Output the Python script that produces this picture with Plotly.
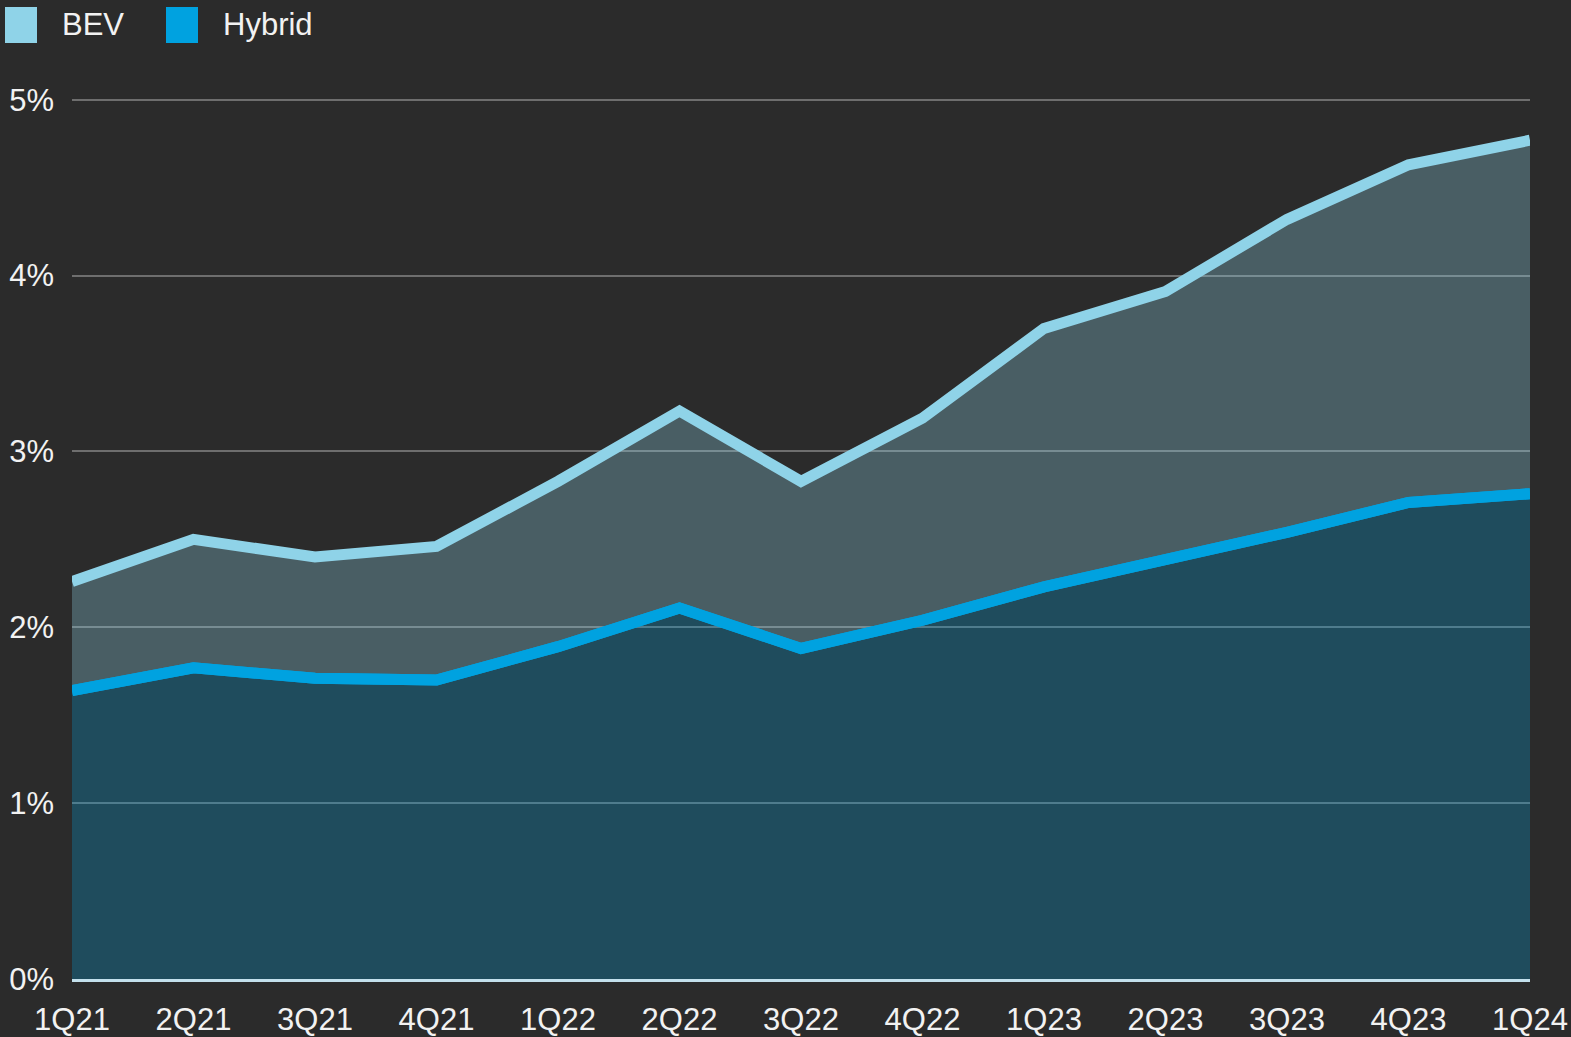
import plotly.graph_objects as go

# Quarterly share of new-vehicle sales (%)
quarters = ["1Q21", "2Q21", "3Q21", "4Q21", "1Q22", "2Q22", "3Q22",
            "4Q22", "1Q23", "2Q23", "3Q23", "4Q23", "1Q24"]
bev_share = [2.26, 2.50, 2.40, 2.46, 2.83, 3.23, 2.83, 3.19, 3.70, 3.91, 4.32, 4.63, 4.77]
hybrid_share = [1.64, 1.77, 1.71, 1.70, 1.89, 2.11, 1.88, 2.04, 2.23, 2.38, 2.54, 2.71, 2.76]
y_ticks = [0, 1, 2, 3, 4, 5]
y_tick_text = ["0%", "1%", "2%", "3%", "4%", "5%"]

BG = "#2b2b2b"
BEV_COLOR = "#8fd3e8"
HYBRID_COLOR = "#00a2e0"
TEXT_COLOR = "#f2f2f2"
FONT = "Liberation Sans, Arial, sans-serif"
FONT_SIZE = 31

W, H = 1571, 1037
M_L, M_R, M_T, M_B = 72, 41, 91, 58

fig = go.Figure()

# Hybrid area down to zero
fig.add_trace(go.Scatter(
    x=quarters, y=hybrid_share, mode="lines", name="Hybrid",
    line=dict(color=HYBRID_COLOR, width=11),
    fill="tozeroy", fillcolor="rgba(0,162,224,0.28)",
    showlegend=False, hoverinfo="skip",
))
# BEV area between the two lines
fig.add_trace(go.Scatter(
    x=quarters, y=bev_share, mode="lines", name="BEV",
    line=dict(color=BEV_COLOR, width=11),
    fill="tonexty", fillcolor="rgba(143,211,232,0.30)",
    showlegend=False, hoverinfo="skip",
))
# Redraw the hybrid line on top of the BEV fill
fig.add_trace(go.Scatter(
    x=quarters, y=hybrid_share, mode="lines",
    line=dict(color=HYBRID_COLOR, width=11),
    showlegend=False, hoverinfo="skip",
))

# Custom legend: coloured squares with labels above the plot
pw = W - M_L - M_R
ph = H - M_T - M_B


def px_to_paper_x(px):
    return (px - M_L) / pw


def px_to_paper_y(py):
    return (H - M_B - py) / ph


legend_items = [("BEV", BEV_COLOR, 5, 60), ("Hybrid", HYBRID_COLOR, 166, 221)]
shapes = []
annotations = []
for label, color, sq_left, text_left in legend_items:
    shapes.append(dict(
        type="rect", xref="paper", yref="paper",
        x0=px_to_paper_x(sq_left), x1=px_to_paper_x(sq_left + 32),
        y0=px_to_paper_y(43), y1=px_to_paper_y(7),
        fillcolor=color, line=dict(width=0), layer="above",
    ))
    annotations.append(dict(
        text=label, xref="paper", yref="paper",
        x=px_to_paper_x(text_left), y=px_to_paper_y(25),
        xanchor="left", yanchor="middle", showarrow=False,
        font=dict(family=FONT, size=FONT_SIZE, color=TEXT_COLOR),
    ))

fig.update_layout(
    width=W, height=H,
    margin=dict(l=M_L, r=M_R, t=M_T, b=M_B, autoexpand=False),
    paper_bgcolor=BG, plot_bgcolor=BG,
    font=dict(family=FONT, size=FONT_SIZE, color=TEXT_COLOR),
    shapes=shapes, annotations=annotations,
    showlegend=False,
)
fig.update_xaxes(
    type="category", range=[0, len(quarters) - 1],
    showgrid=False, zeroline=False,
    showline=True, linecolor="#c3e0ec", linewidth=3,
    ticks="", ticklabelstandoff=11,
    tickfont=dict(family=FONT, size=FONT_SIZE, color=TEXT_COLOR),
    automargin=False, fixedrange=True,
)
fig.update_yaxes(
    range=[0, 5.05],
    tickvals=y_ticks, ticktext=y_tick_text,
    showgrid=True, gridcolor="#6e6e6e", gridwidth=2,
    zeroline=False, showline=False,
    ticks="", ticklabelstandoff=17,
    tickfont=dict(family=FONT, size=FONT_SIZE, color=TEXT_COLOR),
    automargin=False, fixedrange=True,
)

fig.write_html("out.html", config={"displayModeBar": False})
